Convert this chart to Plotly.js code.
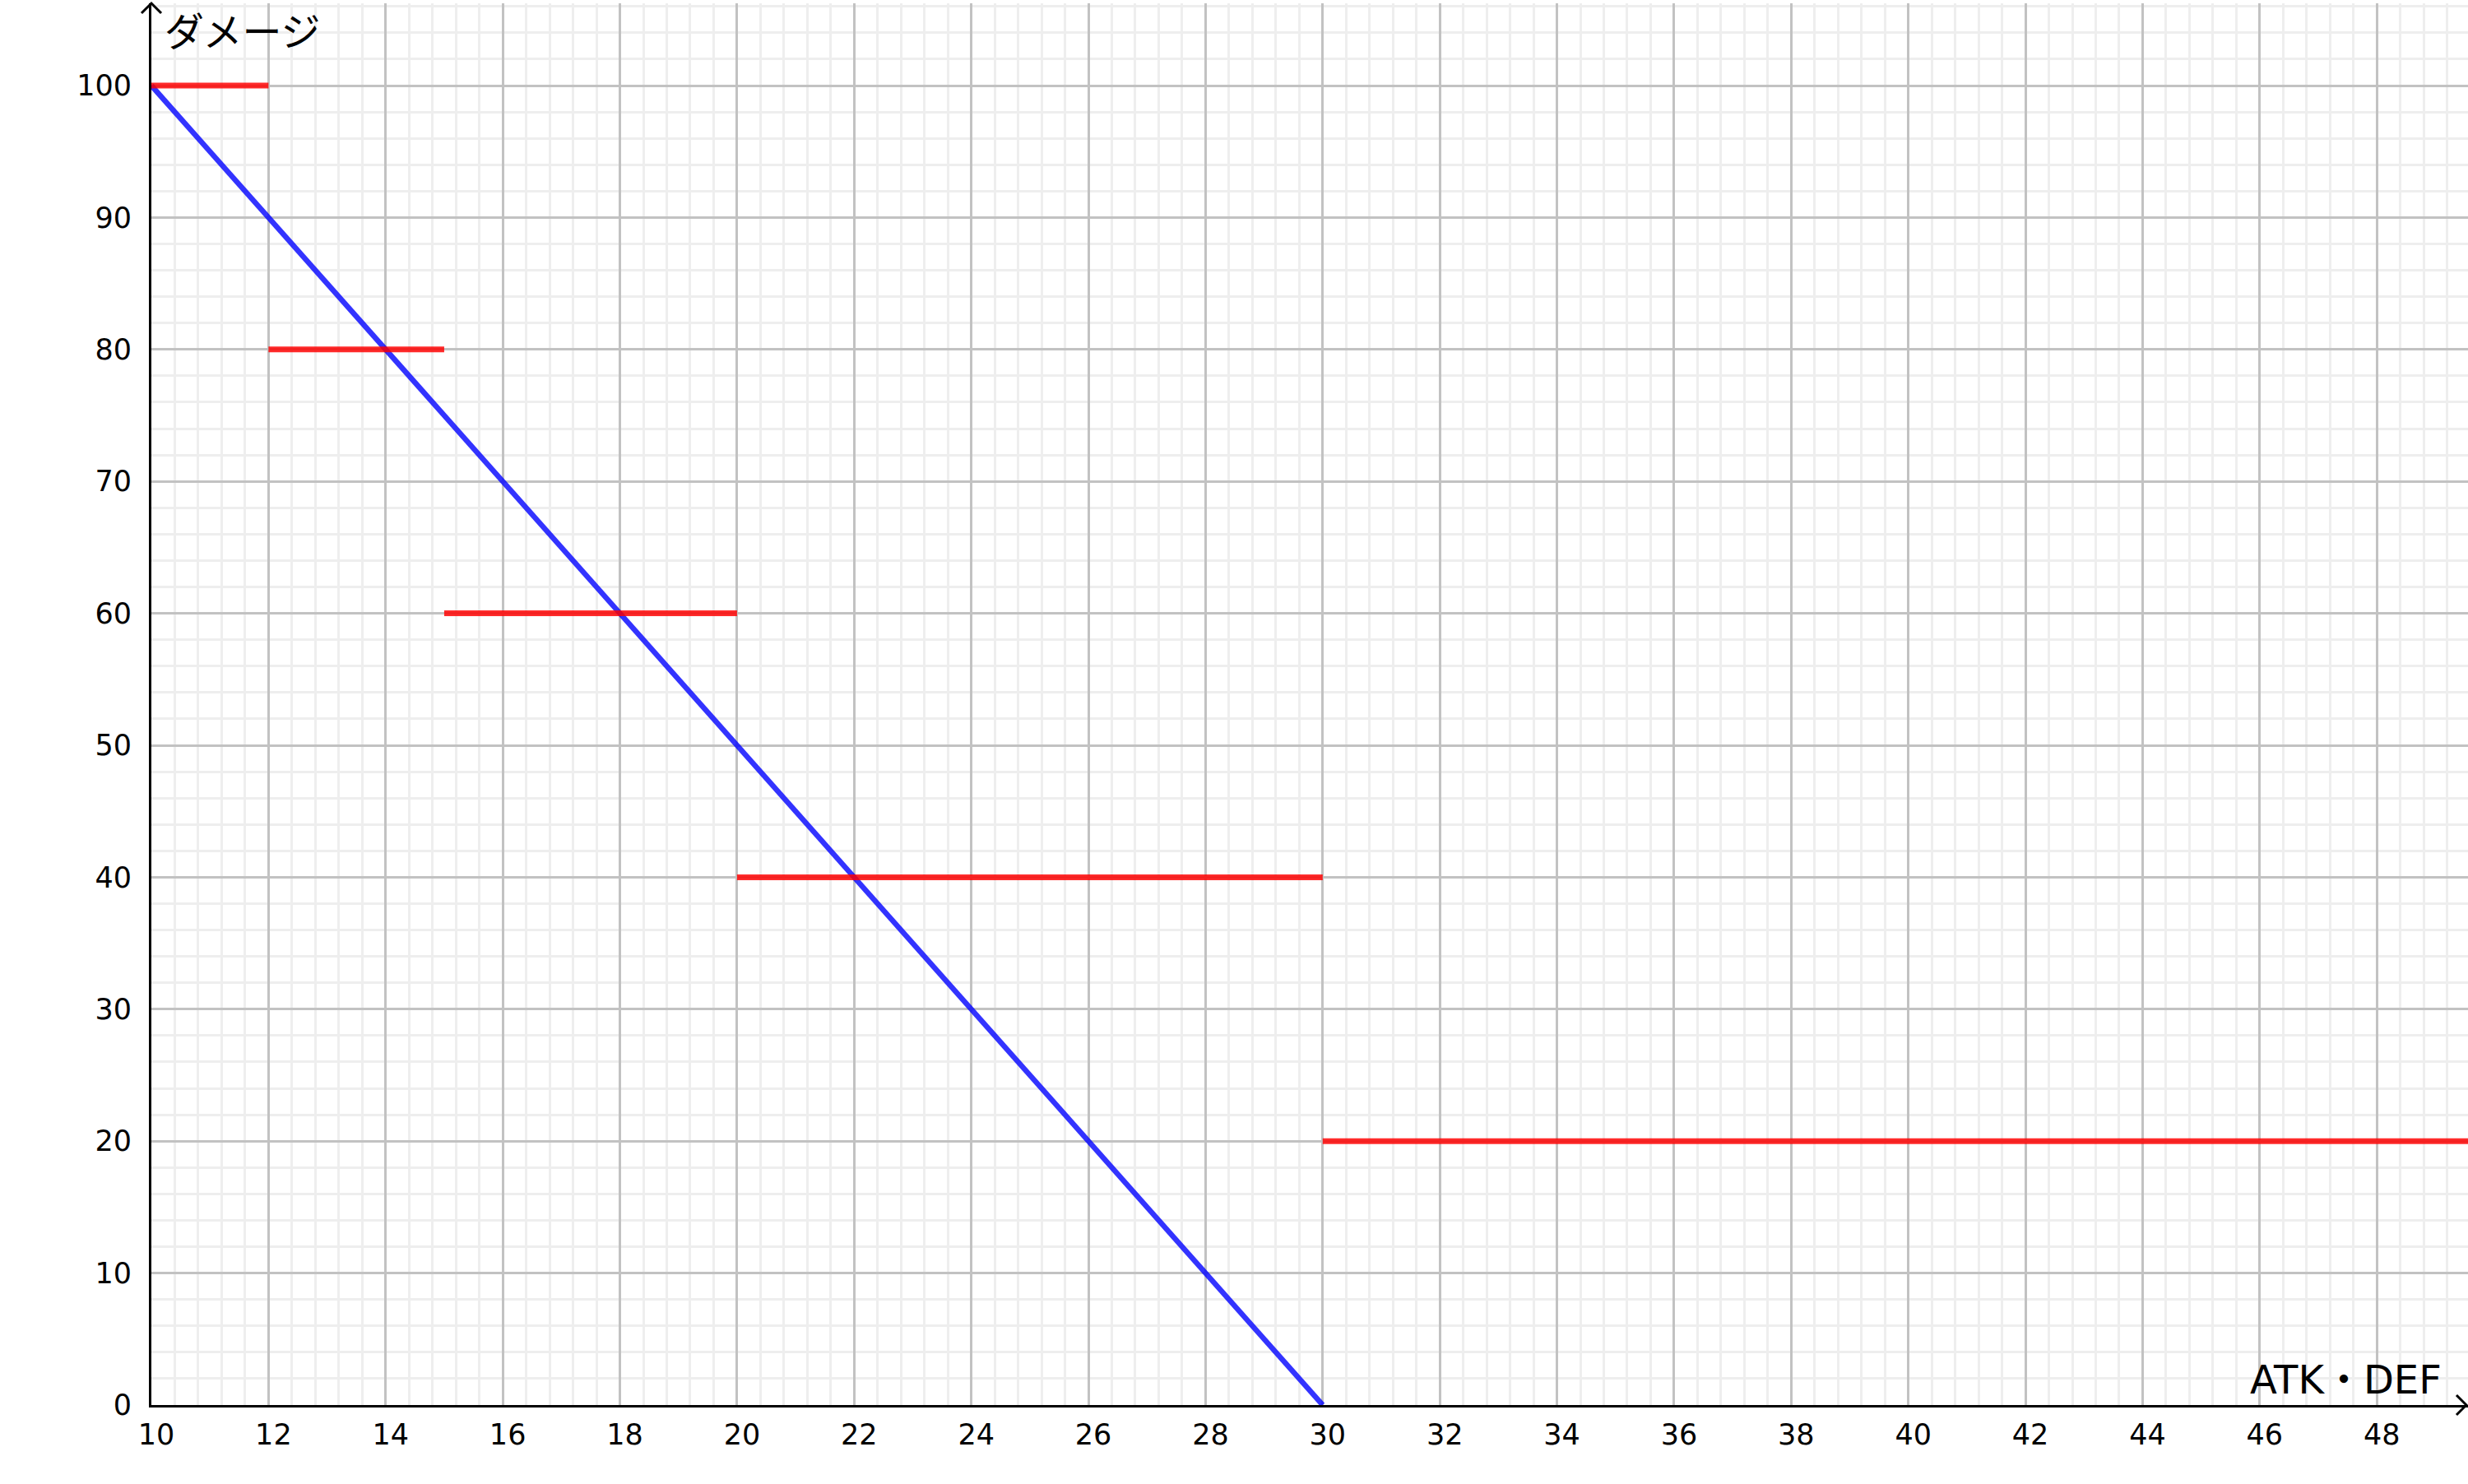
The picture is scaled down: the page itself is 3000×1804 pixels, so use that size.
<!DOCTYPE html>
<html>
<head>
<meta charset="utf-8">
<script src="https://cdn.plot.ly/plotly-3.0.1.min.js"></script>
<style>html,body{margin:0;padding:0;background:#fff;}#chart{width:3000px;height:1804px;}</style>
</head>
<body>
<div id="chart"></div>
<script>
// Data
const lineX = [10, 30];
const lineY = [100, 0];
const stepStartX = [10, 12, 15, 20, 30];
const stepEndX = [12, 15, 20, 30, 52];
const stepY = [100, 80, 60, 40, 20];
const xTitle = 'ATK・DEF';
const yTitle = 'ダメージ';

const W = 3000, H = 1804;
const L = 184, T = 4, B = 96, R = 0;
const pw = W - L - R, ph = H - T - B;
const xmin = 10, xPerPx = 1 / 71.19;
const ymin = 0, yPerPx = 1 / 16.04;
const xmax = xmin + pw * xPerPx;
const ymax = ymin + ph * yPerPx;

const redX = [], redY = [];
for (let i = 0; i < stepY.length; i++) {
  redX.push(stepStartX[i], stepEndX[i], null);
  redY.push(stepY[i], stepY[i], null);
}

const px = (x) => (x - L) / pw;
const py = (y) => (T + ph - y) / ph;

const traces = [
  {x: lineX, y: lineY, mode: 'lines', line: {color: 'rgba(0,0,255,0.8)', width: 6.5}, hoverinfo: 'skip', showlegend: false},
  {x: redX, y: redY, mode: 'lines', line: {color: 'rgba(255,0,0,0.83)', width: 7}, connectgaps: false, hoverinfo: 'skip', showlegend: false}
];

const font = 'DejaVu Sans, Verdana, Noto Sans CJK JP, sans-serif';

const layout = {
  width: W, height: H,
  margin: {l: L, r: R, t: T, b: B, pad: 0},
  paper_bgcolor: '#fff', plot_bgcolor: '#fff',
  showlegend: false,
  xaxis: {
    range: [xmin, xmax], tick0: 10, dtick: 2, tickmode: 'linear',
    showgrid: true, gridcolor: '#c2c2c2', gridwidth: 3,
    minor: {dtick: 0.4, tick0: 10, showgrid: true, gridcolor: '#eeeeee', gridwidth: 3},
    zeroline: false, showline: true, linecolor: '#000', linewidth: 3,
    ticks: '', ticklabelstandoff: 3, ticklabelshift: 6,
    tickfont: {family: font, size: 35, color: '#000'}
  },
  yaxis: {
    range: [ymin, ymax], tick0: 0, dtick: 10, tickmode: 'linear',
    showgrid: true, gridcolor: '#c2c2c2', gridwidth: 3,
    minor: {dtick: 2, tick0: 0, showgrid: true, gridcolor: '#eeeeee', gridwidth: 3},
    zeroline: false, showline: true, linecolor: '#000', linewidth: 3,
    ticks: '', ticklabelstandoff: 14,
    tickfont: {family: font, size: 35, color: '#000'}
  },
  shapes: [
    {type: 'path', xref: 'paper', yref: 'paper', layer: 'above',
     path: `M ${px(172)},${py(16)} L ${px(184)},${py(4)} L ${px(196)},${py(16)}`,
     line: {color: '#000', width: 3}},
    {type: 'path', xref: 'paper', yref: 'paper', layer: 'above',
     path: `M ${px(2986)},${py(1696)} L ${px(2998)},${py(1708)} L ${px(2986)},${py(1720)}`,
     line: {color: '#000', width: 3}}
  ],
  annotations: [
    {text: yTitle, xref: 'paper', yref: 'paper', x: px(198), y: py(35), xanchor: 'left', yanchor: 'middle',
     showarrow: false, font: {family: 'Noto Sans CJK JP, sans-serif', size: 48, color: '#000'}},
    {text: xTitle, xref: 'paper', yref: 'paper', x: px(2970), y: py(1677), xanchor: 'right', yanchor: 'middle',
     showarrow: false, font: {family: font, size: 48, color: '#000'}}
  ]
};

Plotly.newPlot('chart', traces, layout, {displayModeBar: false, staticPlot: true});
</script>
</body>
</html>
